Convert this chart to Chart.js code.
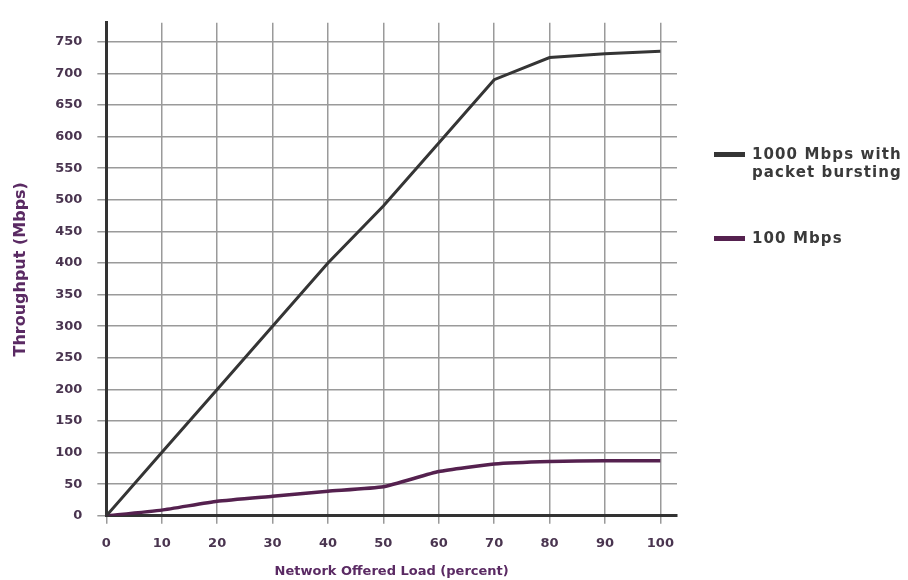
<!DOCTYPE html>
<html>
<head>
<meta charset="utf-8">
<script src="https://cdn.jsdelivr.net/npm/chart.js@4/dist/chart.umd.min.js"></script>
<style>
  body { margin: 0; background: #fff; }
  #wrap { position: relative; width: 908px; height: 580px; }
  #legend { position: absolute; left: 714px; top: 145px; font-family: "DejaVu Sans", sans-serif; font-weight: bold; font-size: 15px; letter-spacing: 1.1px; color: #3a3a3a; }
  .item { display: flex; align-items: flex-start; margin-bottom: 48px; }
  .swatch { width: 31px; height: 5px; margin-top: 7px; margin-right: 7px; flex: none; }
  .item span { line-height: 18px; white-space: nowrap; }
</style>
</head>
<body>
<div id="wrap">
  <canvas id="throughputChart" width="908" height="580"></canvas>
  <div id="legend"></div>
</div>
<script>
let loads = [0, 10, 20, 30, 40, 50, 60, 70, 80, 90, 100];
let gigabit = [0, 100, 200, 300, 400, 490, 590, 690, 725, 731, 735];
let fastEth = [0, 9, 23, 31, 39, 46, 70, 82, 86, 87, 87];
let seriesNames = [["1000 Mbps with", "packet bursting"], ["100 Mbps"]];
let seriesColors = ["#353535", "#55214f"];

const ctx = document.getElementById("throughputChart");

new Chart(ctx, {
  type: "line",
  data: {
    datasets: [
      {
        label: seriesNames[0].join(" "),
        data: loads.map((x, i) => ({ x: x, y: gigabit[i] })),
        borderColor: seriesColors[0],
        borderWidth: 3,
        pointRadius: 0,
        tension: 0,
      },
      {
        label: seriesNames[1].join(" "),
        data: loads.map((x, i) => ({ x: x, y: fastEth[i] })),
        borderColor: seriesColors[1],
        borderWidth: 3.5,
        pointRadius: 0,
        tension: 0.15,
      },
    ],
  },
  options: {
    responsive: false,
    animation: false,
    layout: { padding: { top: -12, right: 231, left: 11, bottom: 1 } },
    scales: {
      x: {
        type: "linear",
        min: 0,
        max: 103,
        afterBuildTicks: (axis) => {
          axis.ticks = loads.map((v) => ({ value: v }));
        },
        grid: { color: "#9a9a9a", lineWidth: 1.5, tickLength: 8 },
        border: { color: "#333", width: 3 },
        ticks: {
          color: "#4a3550",
          font: { family: "DejaVu Sans", size: 13, weight: "bold" },
          padding: 12,
          maxRotation: 0,
        },
        title: {
          display: true,
          text: "Network Offered Load (percent)",
          color: "#5a2a63",
          font: { family: "DejaVu Sans", size: 13, weight: "bold" },
          padding: { top: 0, bottom: 0 },
        },
      },
      y: {
        min: 0,
        max: 780,
        afterBuildTicks: (axis) => {
          let t = [];
          for (let v = 0; v <= 750; v += 50) t.push({ value: v });
          axis.ticks = t;
        },
        grid: { color: "#9a9a9a", lineWidth: 1.5, tickLength: 9 },
        border: { color: "#333", width: 3 },
        ticks: {
          color: "#4a3550",
          font: { family: "DejaVu Sans", size: 13, weight: "bold" },
          padding: 15,
        },
        title: {
          display: true,
          text: "Throughput (Mbps)",
          color: "#5a2a63",
          font: { family: "DejaVu Sans", size: 16, weight: "bold" },
          padding: { top: 0, bottom: 10 },
        },
      },
    },
    plugins: {
      legend: { display: false },
      tooltip: { enabled: false },
    },
  },
});

let legend = document.getElementById("legend");
seriesNames.forEach((name, i) => {
  legend.innerHTML += `
    <div class="item">
      <div class="swatch" style="background:${seriesColors[i]}"></div>
      <span>${name.join("<br>")}</span>
    </div>`;
});
</script>
</body>
</html>
